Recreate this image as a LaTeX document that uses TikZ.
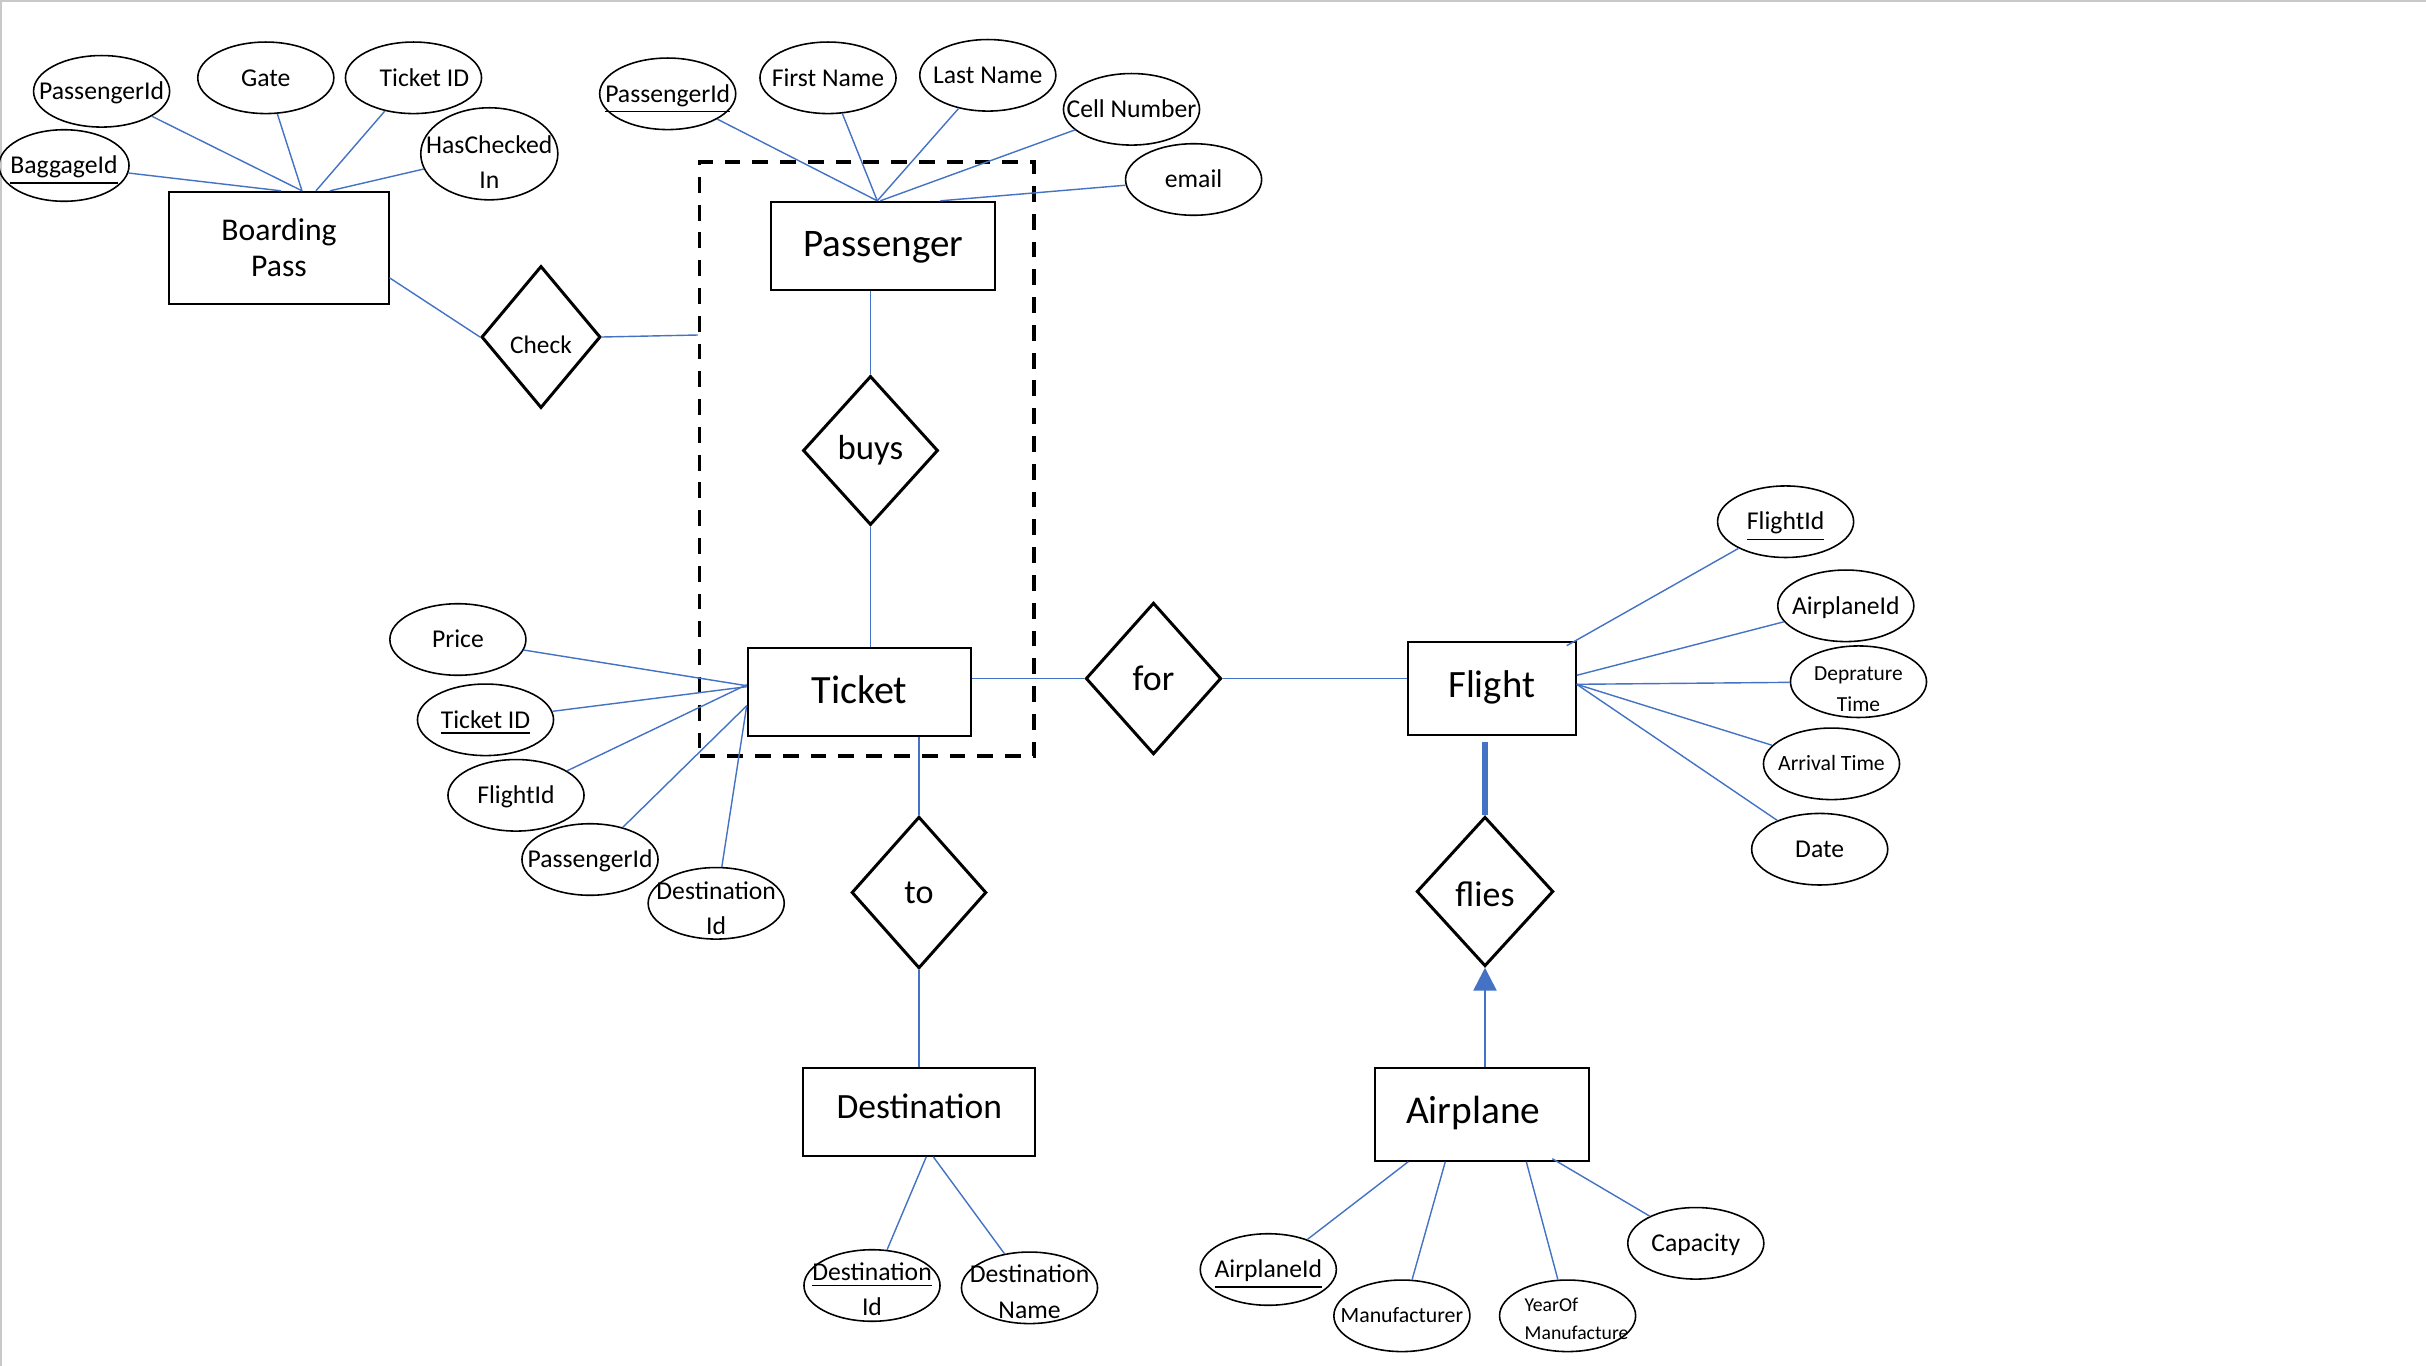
\documentclass[tikz,border=0pt]{standalone}
\usepackage{fontspec}
\setmainfont{Carlito}
\usetikzlibrary{shapes.geometric,arrows.meta,calc}

\definecolor{linkblue}{RGB}{68,114,196}
\definecolor{framegray}{RGB}{200,200,200}

% attribute labels take no room, so every ellipse keeps its set size
\newcommand{\attxt}[1]{\makebox[0pt]{#1}}
% two-line attribute labels: #1 vertical shift, #2 first line, #3 second line
\newcommand{\attrlines}[3]{\makebox[0pt]{\raisebox{#1}[0pt][0pt]{\begin{tabular}{@{}c@{}}#2\\#3\end{tabular}}}}
\newcommand{\attrlinesl}[3]{\makebox[0pt]{\raisebox{#1}[0pt][0pt]{\begin{tabular}{@{}l@{}}#2\\#3\end{tabular}}}}

\tikzset{
  ent/.style={draw, line width=0.55pt, rectangle, inner sep=0pt},
  rel/.style={draw, line width=0.85pt, diamond, inner sep=0pt},
  attr/.style={draw, line width=0.45pt, ellipse, inner sep=0pt,
    minimum width=1.36cm, minimum height=0.715cm,
    text height=4.7pt, text depth=0pt, font=\fontsize{7.3}{10}\selectfont},
  link/.style={draw=linkblue, line width=0.4pt},
  aggbox/.style={draw, line width=1pt, dash pattern=on 4.5pt off 3.4pt, rectangle, inner sep=0pt},
}

\begin{document}
\begin{tikzpicture}[x=0.01cm, y=-0.01cm]
\useasboundingbox (0,0) rectangle (2426,1366);
\fill[white] (0,0) rectangle (2426,1366);
\draw[framegray, line width=0.57pt] (0,1) -- (2426,1);
\draw[framegray, line width=0.57pt] (1,0) -- (1,1366);

% aggregation around Passenger -- buys -- Ticket
\node[aggbox, minimum width=3.344cm, minimum height=5.937cm] (agg) at (866.8,459.2) {};

% entities
\node[ent, minimum width=2.19cm, minimum height=1.12cm, align=center,
      font=\fontsize{9}{10.4}\selectfont] (bp) at (279,247.8) {Boarding\\Pass};
\node[ent, minimum width=2.24cm, minimum height=0.88cm, text height=5.9pt, text depth=0pt,
      font=\fontsize{11.1}{13}\selectfont] (pass) at (883.3,245.8) {Passenger};
\node[ent, minimum width=2.235cm, minimum height=0.88cm, text height=6.9pt, text depth=0pt,
      font=\fontsize{11.4}{13}\selectfont] (tkt) at (859.5,691.7) {Ticket};
\node[ent, minimum width=1.68cm, minimum height=0.933cm, text height=5.1pt, text depth=0pt,
      font=\fontsize{11}{13}\selectfont] (fl) at (1491.7,688.3) {Flight};
\node[ent, minimum width=2.32cm, minimum height=0.88cm, text height=4pt, text depth=0pt,
      font=\fontsize{10.1}{12}\selectfont] (dst) at (919.3,1111.8) {Destination};
\node[ent, minimum width=2.14cm, minimum height=0.93cm, text height=5.3pt, text depth=0pt,
      font=\fontsize{11.2}{13}\selectfont] (apl) at (1482.3,1114.2) {Airplane\hspace*{5.1pt}};

% relationships
\node[rel, minimum width=1.19cm, minimum height=1.42cm, text height=9.2pt, text depth=0pt,
      font=\fontsize{7.2}{9}\selectfont] (chk) at (541,337) {Check};
\node[rel, minimum width=1.35cm, minimum height=1.49cm,
      font=\fontsize{9.9}{12}\selectfont] (buys) at (870.5,450.5) {buys};
\node[rel, minimum width=1.354cm, minimum height=1.516cm,
      font=\fontsize{10.2}{12}\selectfont] (rfor) at (1153.5,678.5) {for};
\node[rel, minimum width=1.347cm, minimum height=1.516cm,
      font=\fontsize{9.7}{12}\selectfont] (rto) at (919,892.5) {to};
\node[rel, minimum width=1.366cm, minimum height=1.494cm, text height=8.8pt, text depth=0pt,
      font=\fontsize{10.2}{12}\selectfont] (flies) at (1485,891.5) {flies};

% attributes of Boarding Pass
\node[attr] (bpPid) at (101.6,91.3) {\attxt{PassengerId}};
\node[attr] (bpGate) at (265.8,77.8) {\attxt{Gate}};
\node[attr] (bpTid) at (413.5,77.8) {\attxt{\hspace*{6.2pt}Ticket ID}};
\node[attr, minimum width=1.37cm, minimum height=0.92cm] (bpHci) at (489.3,153.8)
  {\attrlines{-2.2pt}{HasChecked}{In}};
\node[attr, minimum width=1.3cm] (bpBag) at (64,165.5) {\attxt{\underline{BaggageId}}};

% attributes of Passenger
\node[attr] (pPid) at (667.7,93.8) {\attxt{\underline{PassengerId}}};
\node[attr] (pFirst) at (828,77.8) {\attxt{First Name}};
\node[attr] (pLast) at (987.8,75.3) {\attxt{Last Name}};
\node[attr] (pCell) at (1131.5,109.3) {\attxt{Cell Number}};
\node[attr] (pEmail) at (1193.6,179.5) {\attxt{email}};

% attributes of Ticket
\node[attr] (tPrice) at (457.9,639.5) {\attxt{Price}};
\node[attr] (tTid) at (485.5,719.8) {\attxt{\underline{Ticket ID}}};
\node[attr] (tFid) at (516,795.3) {\attxt{FlightId}};
\node[attr] (tPid) at (590,859.5) {\attxt{PassengerId}};
\node[attr] (tDid) at (716.2,903.3) {\attrlines{-1.4pt}{Destination}{Id}};

% attributes of Flight
\node[attr] (fFid) at (1785.6,521.7) {\attxt{\underline{FlightId}}};
\node[attr] (fAid) at (1845.8,605.8) {\attxt{AirplaneId}};
\node[attr, text height=3.9pt, font=\fontsize{6.1}{8.8}\selectfont] (fDep) at (1858.5,681.7)
  {\attrlines{-1.8pt}{Deprature}{Time}};
\node[attr, text height=4pt, font=\fontsize{6.2}{8}\selectfont] (fArr) at (1831.5,763.8) {\attxt{Arrival Time}};
\node[attr] (fDate) at (1819.7,849.2) {\attxt{Date}};

% attributes of Destination
\node[attr] (dDid) at (872,1285.5) {\attrlines{-1pt}{\underline{Destination}}{Id}};
\node[attr] (dName) at (1029.5,1287.8) {\attrlines{-1pt}{Destination}{Name}};

% attributes of Airplane
\node[attr] (aAid) at (1268.3,1269.5) {\attxt{\underline{AirplaneId}}};
\node[attr, text height=4pt, font=\fontsize{6.2}{8}\selectfont] (aMan) at (1401.9,1315.8) {\attxt{Manufacturer}};
\node[attr, text height=3.6pt, font=\fontsize{5.6}{8.2}\selectfont] (aYear) at (1567.6,1315.8)
  {\attrlinesl{-0.8pt}{\hspace*{5.1pt}YearOf}{\hspace*{5.1pt}Manufacture}};
\node[attr] (aCap) at (1695.8,1243.3) {\attxt{Capacity}};

% Boarding Pass connectors
\draw[link] (bpBag) -- ($(bp.north)+(2,0)$);
\draw[link] (bpPid) -- ($(bp.north)+(23,0)$);
\draw[link] (bpGate) -- ($(bp.north)+(23,0)$);
\draw[link] (bpTid) -- ($(bp.north)+(37,0)$);
\draw[link] (bpHci) -- ($(bp.north)+(51,0)$);
\draw[link] ($(bp.east)+(0,30)$) -- (chk.west);
\draw[link] (chk.east) -- ($(chk.east -| agg.west)+(0,-2)$);

% Passenger connectors
\coordinate (pTop) at ($(pass.north)+(-6,0)$);
\draw[link] (pPid) -- (pTop);
\draw[link] (pFirst) -- (pTop);
\draw[link] (pLast) -- (pTop);
\draw[link] (pCell) -- ($(pass.north)+(-3,0)$);
\draw[link] (pEmail) -- ($(pass.north)+(57,0)$);
\draw[link] (buys.north |- pass.south) -- (buys.north);
\draw[link] (buys.south) -- (buys.south |- tkt.north);

% Ticket connectors
\draw[link] (tPrice) -- ($(tkt.west)+(0,-6)$);
\draw[link] (tTid) -- ($(tkt.west)+(0,-5)$);
\draw[link] (tFid) -- ($(tkt.west)+(0,-7)$);
\draw[link] (tPid) -- ($(tkt.west)+(0,14)$);
\draw[link] (tDid) -- ($(tkt.west)+(0,14)$);
\draw[link] (tkt.east |- rfor.west) -- (rfor.west);
\draw[link] (rfor.east) -- (rfor.east -| fl.west);
\draw[link] (rto.north |- tkt.south) -- (rto.north);
\draw[link] (rto.south) -- (rto.south |- dst.north);

% Flight connectors
\draw[link] (fFid) -- ($(fl.north east)+(-10,5)$);
\draw[link] (fAid) -- ($(fl.east)+(0,-13)$);
\draw[link] (fDep) -- ($(fl.east)+(0,-4)$);
\draw[link] (fArr) -- ($(fl.east)+(0,-4)$);
\draw[link] (fDate) -- ($(fl.east)+(0,-4)$);
\draw[link, line width=1.7pt, shorten <=1.7pt] (flies.north |- fl.south) -- (flies.north);
\draw[link, -{Triangle[length=6.5pt,width=6.6pt]}] (apl.north -| flies.south) -- (flies.south);

% Destination connectors
\draw[link] ($(dst.south)+(7,0)$) -- (dDid);
\draw[link] ($(dst.south)+(14,0)$) -- (dName);

% Airplane connectors
\draw[link] ($(apl.south)+(-74,0)$) -- (aAid);
\draw[link] ($(apl.south)+(-37,0)$) -- (aMan);
\draw[link] ($(apl.south)+(44,0)$) -- (aYear);
\draw[link] ($(apl.south)+(70,-3)$) -- (aCap);
\end{tikzpicture}
\end{document}
